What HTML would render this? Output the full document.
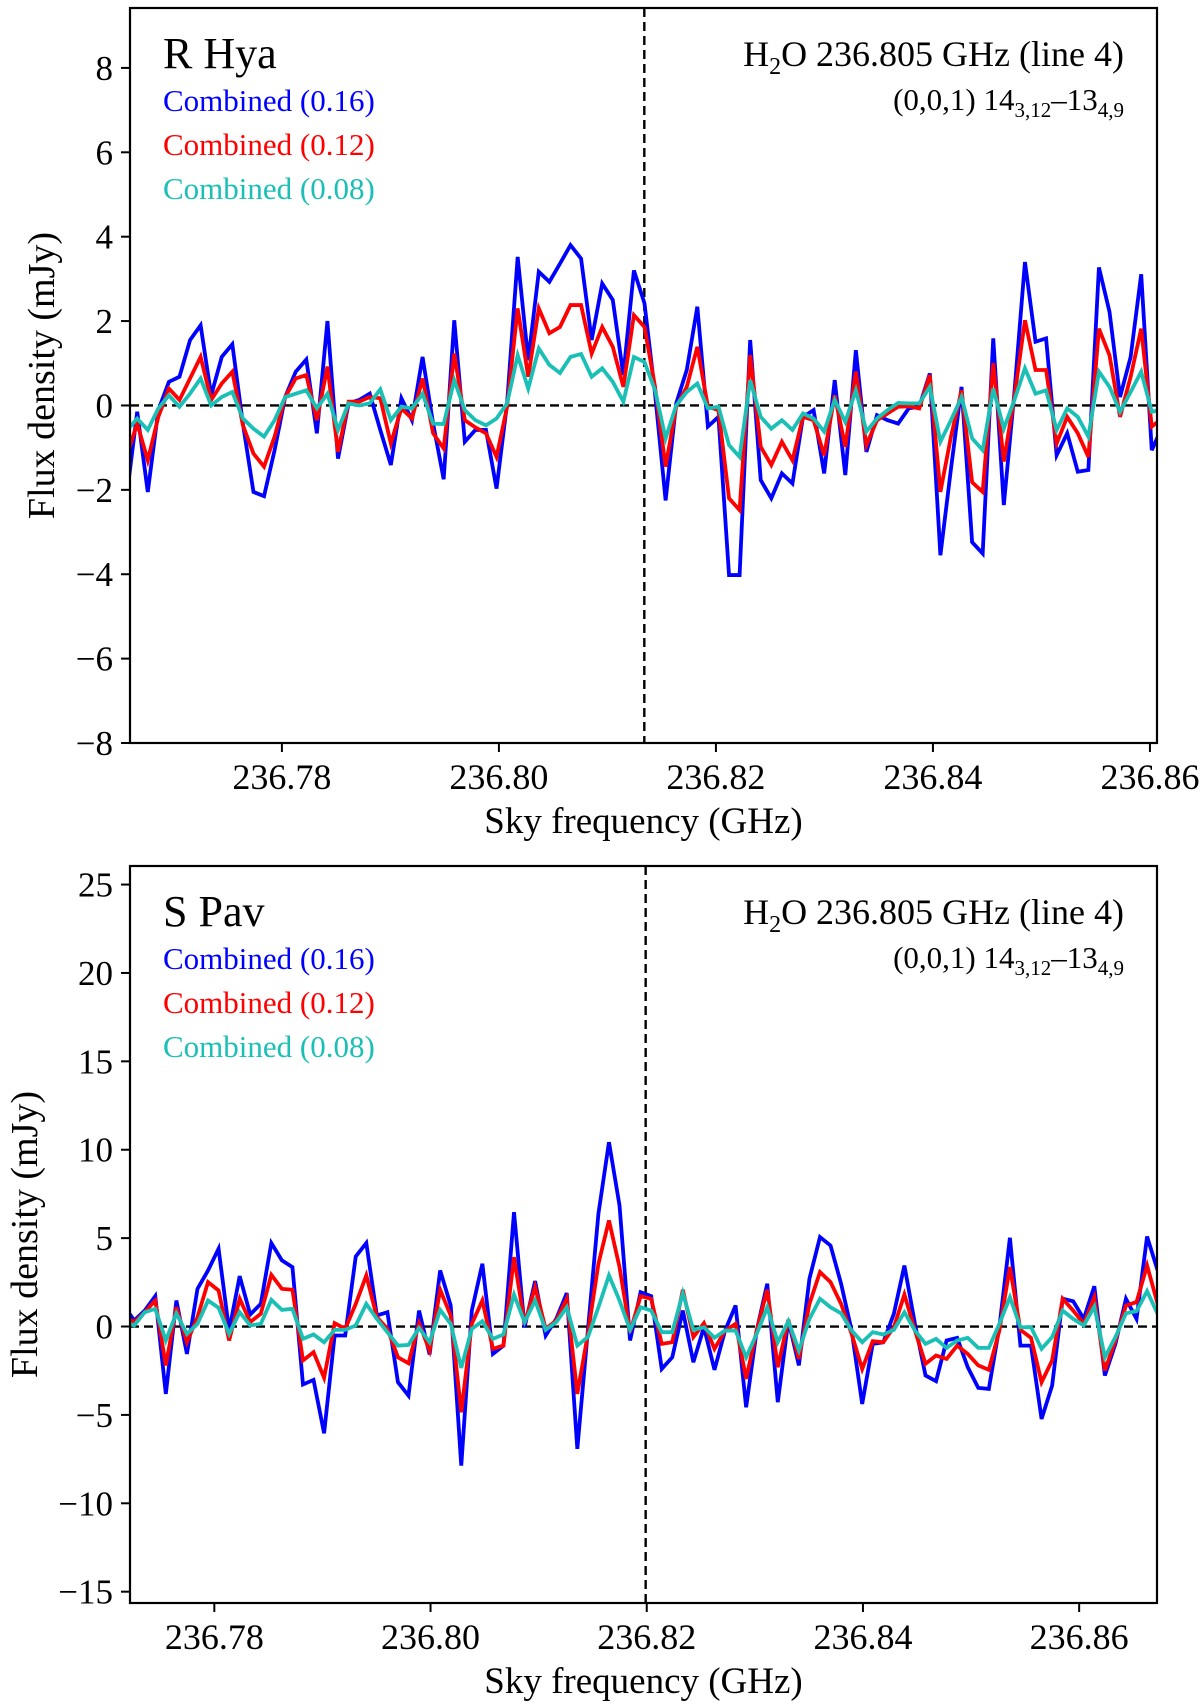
<!DOCTYPE html>
<html><head><meta charset="utf-8"><style>
body{margin:0;background:#fff;}
svg{display:block;font-family:"Liberation Serif",serif;}
</style></head><body>
<svg id="fig" width="1200" height="1704" viewBox="0 0 1200 1704" xmlns="http://www.w3.org/2000/svg"></svg>
<script>
// ---- Panel 1: R Hya ----
const hyaStart = 236.76569;
const hyaStep = 0.000974;
const hyaBlue = [-2.16,-0.15,-2.05,-0.11,0.56,0.68,1.55,1.90,0.24,1.15,1.45,-0.43,-2.05,-2.15,-1.06,0.2,0.8,1.09,-0.66,2.0,-1.26,0.05,0.13,0.28,-0.58,-1.41,0.17,-0.35,1.15,-0.43,-1.75,2.02,-0.86,-0.58,-0.58,
-1.97,0.05,3.52,1.07,3.17,2.93,3.36,3.8,3.48,1.55,2.89,2.5,0.72,3.2,2.42,0.28,-2.25,0.05,0.84,2.34,-0.5,-0.27,-4.02,-4.02,1.55,-1.77,-2.2,-1.61,-1.85,-0.27,-0.11,-1.61,0.6,
-1.65,1.31,-1.1,-0.23,-0.35,-0.43,-0.07,-0.03,0.76,-3.55,-1.5,0.44,-3.24,-3.51,1.59,-2.36,0.3,3.4,1.51,1.59,-1.18,-0.66,-1.57,-1.53,3.27,2.22,0.2,1.15,3.11,-1.06,-0.5];
const hyaRed = [-1.2,-0.43,-1.3,-0.27,0.4,0.13,0.64,1.15,0.13,0.52,0.8,-0.47,-1.14,-1.45,-0.74,0.2,0.64,0.72,-0.35,0.92,-1.1,0.09,0.09,0.2,0.17,-0.9,-0.07,-0.31,0.64,-0.66,-1.02,1.23,-0.35,-0.52,-0.66,
-1.22,-0.03,2.3,0.68,2.3,1.71,1.86,2.38,2.38,1.23,1.86,1.39,0.44,2.14,1.86,0.44,-1.45,-0.03,0.44,1.39,-0.03,-0.11,-2.2,-2.48,1.19,-0.98,-1.41,-0.86,-1.3,-0.27,-0.35,-1.18,0.24,
-0.98,0.8,-0.94,-0.35,-0.19,-0.03,-0.02,-0.07,0.72,-2.05,-0.74,0.36,-1.82,-2.05,1.0,-1.33,0.2,2.02,0.84,0.84,-0.9,-0.27,-0.66,-1.22,1.82,1.19,-0.27,0.68,1.82,-0.5,-0.3];
const hyaCyan = [-0.6,-0.31,-0.58,-0.07,0.24,-0.03,0.28,0.64,0,0.2,0.32,-0.31,-0.55,-0.74,-0.35,0.2,0.28,0.36,-0.07,0.28,-0.58,0.05,0,0.05,0.38,-0.35,-0.03,-0.07,0.28,-0.43,-0.44,0.6,-0.11,-0.35,-0.47,
-0.31,0.05,1.19,0.4,1.35,0.96,0.77,1.15,1.22,0.68,0.88,0.56,0.09,1.15,1.03,0.36,-0.78,0,0.32,0.52,-0.07,-0.03,-0.94,-1.22,0.6,-0.27,-0.55,-0.35,-0.58,-0.19,-0.31,-0.62,0.13,
-0.39,0.36,-0.62,-0.31,-0.11,0.06,0.05,0.05,0.44,-0.86,-0.35,0.2,-0.78,-1.06,0.4,-0.55,0.13,0.88,0.28,0.36,-0.58,-0.07,-0.27,-0.74,0.8,0.44,-0.15,0.32,0.8,-0.15,-0.1];
const hyaXTicks = ["236.78","236.80","236.82","236.84","236.86"];
const hyaYTicks = [-8,-6,-4,-2,0,2,4,6,8];

// ---- Panel 2: S Pav ----
const pavStart = 236.77161;
const pavStep = 0.000976;
const pavBlue = [1.2,0.34,0.9,1.72,-3.81,1.47,-1.55,2.13,3.17,4.4,-0.23,2.85,0.68,1.28,4.72,3.74,3.36,-3.28,-3.02,-6.04,-0.51,-0.51,3.96,4.72,0.62,0.81,-3.15,-3.91,0.9,-1.58,3.17,1.19,-7.87,0.9,3.55,
-1.55,-1.08,6.47,-0.04,2.57,-0.51,0.43,1.89,-6.92,-0.23,6.38,10.43,6.85,-0.79,1.94,1.72,-2.4,-1.74,0.9,-2.02,-0.04,-2.45,-0.23,1.19,-4.57,-0.23,2.42,-4.28,0.34,-2.2,2.7,5.06,4.58,
2.42,-0.23,-4.38,-0.98,-0.89,0.72,3.45,0.15,-2.77,-3.09,-0.79,-0.64,-2.3,-3.47,-3.53,-0.04,5.02,-1.08,-1.08,-5.23,-3.34,1.57,1.43,0.43,2.28,-2.77,-0.98,1.57,0.43,5.09,3.17];
const pavRed = [0.6,0.25,0.81,1.47,-2.2,1.09,-0.89,0.53,2.51,2.04,-0.79,1.57,0.25,0.72,2.92,2.13,2.08,-1.92,-1.45,-2.9,0.19,-0.13,1.28,2.89,0.53,-0.13,-1.74,-2.08,0.19,-1.36,2.08,0.62,-4.85,0.15,1.47,
-1.26,-1.08,3.92,0.15,2.23,-0.13,0.34,1.57,-3.81,-0.42,3.55,6.0,3.36,-0.32,1.72,1.57,-0.98,-0.89,2.08,-0.6,0.19,-1.26,-0.23,0.15,-2.96,-0.23,2.08,-2.3,0.38,-1.83,1.28,3.08,2.51,
1.28,-0.42,-2.4,-0.83,-0.89,-0.04,1.81,-0.23,-2.11,-1.64,-1.83,-1.08,-1.55,-2.2,-2.45,-0.23,3.36,-0.19,-0.64,-3.15,-1.92,1.57,0.9,0.15,1.66,-2.49,-0.79,1.19,1.38,3.45,1.28];
const pavCyan = [0.3,0.06,0.81,1.0,-0.79,0.75,-0.42,0.15,1.47,1.06,-0.42,0.81,0.06,0.15,1.51,0.94,1.0,-0.7,-0.45,-0.89,-0.19,-0.19,0.06,1.28,0.43,-0.32,-1.08,-1.04,-0.08,-0.89,0.94,0.15,-2.34,-0.13,0.3,
-0.7,-0.45,1.81,0.25,1.47,-0.19,0.25,1.09,-1.08,-0.6,1.09,2.89,1.47,-0.19,1.09,0.9,-0.32,-0.32,1.89,-0.19,-0.04,-0.64,-0.23,-0.23,-1.74,-0.42,1.09,-0.89,0.3,-1.36,0.43,1.57,1.09,
0.75,-0.23,-0.89,-0.32,-0.45,-0.19,0.81,-0.23,-0.98,-0.7,-1.21,-0.79,-0.64,-1.21,-1.21,0.15,1.66,-0.04,-0.04,-1.26,-0.6,0.9,0.43,0.06,1.13,-1.74,-0.6,0.75,0.87,2.0,0.72];
const pavXTicks = ["236.78","236.80","236.82","236.84","236.86"];
const pavYTicks = [-15,-10,-5,0,5,10,15,20,25];

const NS = "http://www.w3.org/2000/svg";
const fig = document.getElementById('fig');
function mk(tag, attrs, parent){
  const e = document.createElementNS(NS, tag);
  for (const k in attrs) e.setAttribute(k, attrs[k]);
  (parent||fig).appendChild(e);
  return e;
}
function fmt(v){ return v < 0 ? "\u2212" + Math.abs(v) : String(v); }

function panel(cfg){
  const g = mk('g', {});
  
  
  const L=cfg.L, R=cfg.R, T=cfg.T, B=cfg.B;
  const xs = v => L + (v - cfg.x0) / (cfg.x1 - cfg.x0) * (R - L);
  const ys = v => B - (v - cfg.y0) / (cfg.y1 - cfg.y0) * (B - T);
  const cid = cfg.name + '-clip';
  const cp = mk('clipPath', {id: cid}, g);
  mk('rect', {x:L, y:T, width:R-L, height:B-T}, cp);

  const z = mk('line', {x1:L, x2:R, y1:ys(0), y2:ys(0), stroke:'#000', 'stroke-width':2.4, 'stroke-dasharray':'9 5'}, g);
  
  
  const vl = mk('line', {x1:xs(cfg.vline), x2:xs(cfg.vline), y1:T, y2:B, stroke:'#000', 'stroke-width':2.4, 'stroke-dasharray':'9 5'}, g);
  
  

  const series = [[cfg.blue,'#0000ff','series-combined-016'],[cfg.red,'#ff0000','series-combined-012'],[cfg.cyan,'#1abfb5','series-combined-008']];
  series.forEach(s => {
    const pts = s[0].map((v,i) => xs(cfg.start + i*cfg.step).toFixed(2) + ',' + ys(v).toFixed(2)).join(' ');
    const pl = mk('polyline', {points: pts, fill:'none', stroke:s[1], 'stroke-width':3.8, 'stroke-linejoin':'miter', 'clip-path':'url(#'+cid+')'}, g);
    
    
  });

  const fr = mk('rect', {x:L, y:T, width:R-L, height:B-T, fill:'none', stroke:'#000', 'stroke-width':2.2}, g);
  
  

  cfg.xticks.forEach(t => {
    const x = xs(parseFloat(t));
    mk('line', {x1:x, x2:x, y1:B, y2:B+9, stroke:'#000', 'stroke-width':2}, g);
    const tx = mk('text', {x:x, y:B+46, 'text-anchor':'middle', 'font-size':36}, g);
    tx.textContent = t;
    
    
  });
  cfg.yticks.forEach(t => {
    const y = ys(t);
    mk('line', {x1:L-9, x2:L, y1:y, y2:y, stroke:'#000', 'stroke-width':2}, g);
    const ty = mk('text', {x:L-17, y:y+12, 'text-anchor':'end', 'font-size':35}, g);
    ty.textContent = fmt(t);
    
    
  });
  const xl = mk('text', {x:(L+R)/2, y:B+90, 'text-anchor':'middle', 'font-size':37}, g);
  xl.textContent = 'Sky frequency (GHz)';
  
  
  const yl = mk('text', {x:0, y:0, 'text-anchor':'middle', 'font-size':38, transform:'translate('+cfg.ylx+','+((T+B)/2)+') rotate(-90)'}, g);
  yl.textContent = 'Flux density (mJy)';
  
  

  const st = mk('text', {x:L+33, y:T+60, 'font-size':44}, g);
  st.textContent = cfg.star;
  
  
  [['Combined (0.16)','#0000ff',103],['Combined (0.12)','#ff0000',147],['Combined (0.08)','#1abfb5',191]].forEach(l => {
    const le = mk('text', {x:L+33, y:T+l[2], 'font-size':31, fill:l[1]}, g);
    le.textContent = l[0];
    
    
  });
  const t1 = mk('text', {x:R-33, y:T+58, 'text-anchor':'end', 'font-size':36}, g);
  t1.innerHTML = 'H<tspan font-size="24" dy="8">2</tspan><tspan dy="-8">O 236.805 GHz (line 4)</tspan>';
  
  
  const t2 = mk('text', {x:R-33, y:T+102, 'text-anchor':'end', 'font-size':31}, g);
  t2.innerHTML = '(0,0,1) 14<tspan font-size="21" dy="7">3,12</tspan><tspan dy="-7">\u201313</tspan><tspan font-size="21" dy="7">4,9</tspan>';
  
  
}

panel({name:'panel-r-hya', star:'R Hya', L:130, R:1157, T:8, B:743,
  x0:236.766, x1:236.86065, y0:-8, y1:9.42, vline:236.8134, ylx:54,
  start:hyaStart, step:hyaStep, blue:hyaBlue, red:hyaRed, cyan:hyaCyan,
  xticks:hyaXTicks, yticks:hyaYTicks});
panel({name:'panel-s-pav', star:'S Pav', L:130, R:1157, T:866, B:1603,
  x0:236.7722, x1:236.8672, y0:-15.64, y1:26.05, vline:236.8199, ylx:37,
  start:pavStart, step:pavStep, blue:pavBlue, red:pavRed, cyan:pavCyan,
  xticks:pavXTicks, yticks:pavYTicks});
</script>
</body></html>
